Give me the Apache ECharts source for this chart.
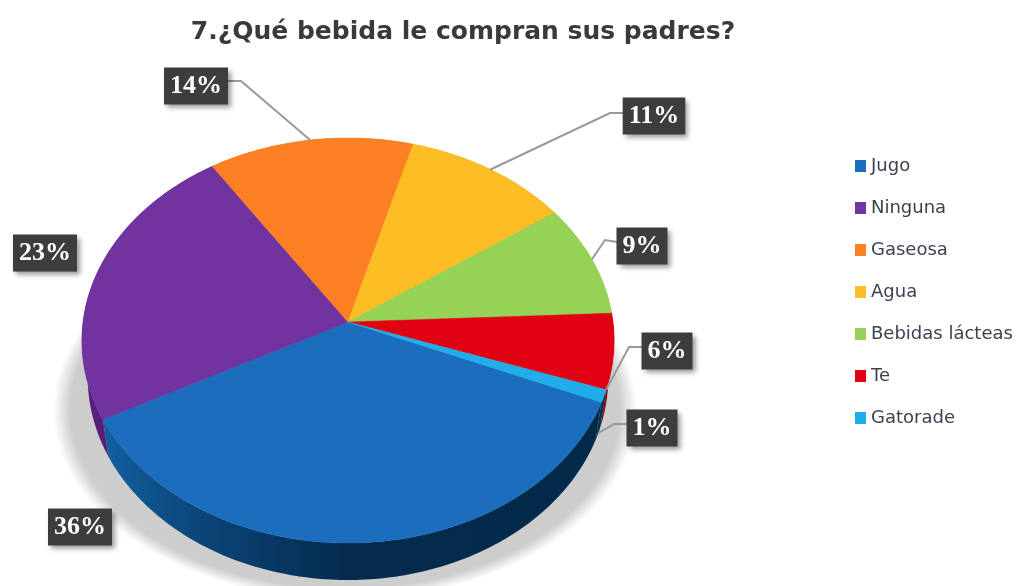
<!DOCTYPE html>
<html>
<head>
<meta charset="utf-8">
<title>7.¿Qué bebida le compran sus padres?</title>
<style>
  html, body { margin: 0; padding: 0; background: #fff; }
  #chart { width: 1017px; height: 586px; }
</style>
<script src="https://cdn.jsdelivr.net/npm/echarts@6/dist/echarts.min.js"></script>
</head>
<body>
<div id="chart"></div>
<script>
// chart data
const categories = ['Jugo', 'Ninguna', 'Gaseosa', 'Agua', 'Bebidas lácteas', 'Te', 'Gatorade'];
const shares = [36, 23.4, 13.6, 11, 9, 6, 1];
const colors = ['#1b6ebd', '#7033a0', '#fd8023', '#fdbd24', '#96d255', '#e20013', '#20aeeb'];

// pie geometry: a tilted disc seen in perspective
const APEX = [348, 322];
const RX = 265;
const RY = 200.8;
const TILT = 0.0914;
const DEPTH = 37;
const BOTTOM_SCALE = 0.978; // lower rim is a little narrower than the top one
const START_DEG = 112.7;

const wallColors = [
  new echarts.graphic.LinearGradient(105, 0, 600, 0, [
    { offset: 0, color: '#11609f' },
    { offset: 0.2, color: '#0b4477' },
    { offset: 0.5, color: '#042a4c' },
    { offset: 1, color: '#02284a' }
  ], true),
  '#591f7f', '#c4621a', '#c4921a', '#74a540', '#8e0010', '#03304f'
];

// label boxes, placed by hand like in the original
const labelCenters = [[80, 527], [45, 253], [196, 86], [654, 116], [642, 246], [667, 351], [652, 428]];
// leader: elbow points, where it lands on the slice (0..1) and whether on the lower rim
const leaders = [
  null,
  null,
  { from: [228, 81], elbow: [241, 81], along: 0.5 },
  { from: [623, 113], elbow: [610, 113], along: 0.5 },
  { from: [617, 242], elbow: [605, 240], along: 0.5 },
  { from: [642, 347], elbow: [629, 347], along: 1 },
  { from: [627, 424], elbow: [614, 424], along: 0.5, lower: true }
];

const total = shares.reduce((a, b) => a + b, 0);

// project a pie angle (degrees, clockwise from top) to the rim
const rimPoint = (deg, lower = false) => {
  const t = deg * Math.PI / 180;
  const u = Math.sin(t);
  const v = -Math.cos(t);
  const w = 1 - TILT * v;
  const x = RX * u / w;
  const y = RY * v / w;
  return lower
    ? [APEX[0] + x * BOTTOM_SCALE, APEX[1] + y + DEPTH]
    : [APEX[0] + x, APEX[1] + y];
};

const sliceAngles = index => {
  const before = shares.slice(0, index).reduce((a, b) => a + b, 0);
  const from = START_DEG + before / total * 360;
  return [from, from + shares[index] / total * 360];
};

const rimArc = (from, to, lower = false) => {
  const pts = [];
  const steps = Math.max(2, Math.ceil(to - from));
  for (let i = 0; i <= steps; i++) {
    pts.push(rimPoint(from + (to - from) * i / steps, lower));
  }
  return pts;
};

const renderSlice = index => () => {
  const [from, to] = sliceAngles(index);
  const arc = rimArc(from, to);
  const children = [
    {
      type: 'polygon',
      z2: 1,
      shape: { points: arc.concat(rimArc(from, to, true).reverse()) },
      style: { fill: wallColors[index] }
    },
    {
      type: 'polygon',
      z2: 2,
      shape: { points: [APEX].concat(arc) },
      style: { fill: colors[index], stroke: colors[index], lineWidth: 0.5 }
    }
  ];
  const leader = leaders[index];
  if (leader) {
    const end = rimPoint(from + (to - from) * leader.along, leader.lower);
    children.push({
      type: 'polyline',
      z2: 3,
      shape: { points: [leader.from, leader.elbow, end] },
      style: { fill: 'none', stroke: '#999', lineWidth: 2 }
    });
  }
  return { type: 'group', children };
};

const renderLabel = params => ({
  type: 'text',
  x: labelCenters[params.dataIndex][0],
  y: labelCenters[params.dataIndex][1],
  style: {
    text: Math.round(shares[params.dataIndex]) + '%',
    font: 'bold 26px "Liberation Serif"',
    fill: '#fff',
    align: 'center',
    verticalAlign: 'middle',
    backgroundColor: '#3d3d3d',
    padding: [6, 6, 5, 6],
    shadowColor: 'rgba(0,0,0,0.4)',
    shadowBlur: 5,
    shadowOffsetX: 3,
    shadowOffsetY: 3
  }
});

const chart = echarts.init(document.getElementById('chart'), null, { renderer: 'canvas' });

const series = categories.map((name, index) => ({
  name,
  type: 'custom',
  coordinateSystem: 'none',
  animation: false,
  silent: true,
  z: 3,
  itemStyle: { color: colors[index] },
  data: [shares[index]],
  renderItem: renderSlice(index)
}));

// soft shadow under the disc: a squashed circle that fades out at its edge
series.unshift({
  type: 'custom',
  coordinateSystem: 'none',
  animation: false,
  silent: true,
  z: 1,
  data: [0],
  renderItem: () => ({
    type: 'circle',
    x: 345,
    y: 410,
    scaleY: 0.65,
    shape: { cx: 0, cy: 0, r: 292 },
    style: {
      fill: new echarts.graphic.RadialGradient(0.5, 0.5, 0.5, [
        { offset: 0, color: 'rgb(205,205,205)' },
        { offset: 0.94, color: 'rgb(205,205,205)' },
        { offset: 1, color: 'rgba(205,205,205,0)' }
      ])
    }
  })
});

series.push({
  type: 'custom',
  coordinateSystem: 'none',
  animation: false,
  silent: true,
  z: 10,
  data: shares,
  renderItem: renderLabel
});

chart.setOption({
  animation: false,
  backgroundColor: '#fff',
  title: {
    text: '7.¿Qué bebida le compran sus padres?',
    left: 458,
    top: 27,
    textAlign: 'center',
    textVerticalAlign: 'middle',
    textStyle: { fontFamily: 'DejaVu Sans', fontWeight: 'bold', fontSize: 25, color: '#3a3a3a' }
  },
  legend: {
    orient: 'vertical',
    left: 855,
    top: 157,
    padding: 0,
    icon: 'rect',
    itemWidth: 11,
    itemHeight: 12,
    itemGap: 24,
    selectedMode: false,
    data: categories,
    textStyle: { fontFamily: 'DejaVu Sans', fontSize: 18, color: '#3c4350' }
  },
  series
});

window.addEventListener('resize', () => chart.resize());
</script>
</body>
</html>
